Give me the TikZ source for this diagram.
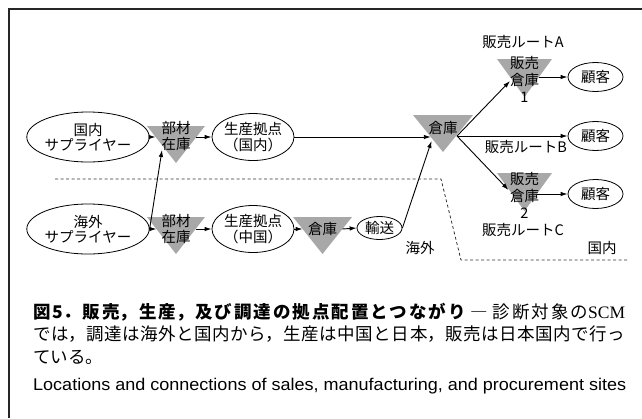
\documentclass[tikz,border=0pt]{standalone}
\usepackage{fontspec}
\usepackage{graphicx}
\setmainfont{Liberation Sans}
\newfontfamily\jp{Noto Sans CJK JP}
\newfontfamily\en{Liberation Sans}
\newfontfamily\enserif{Liberation Serif}
\usetikzlibrary{arrows.meta,shapes.geometric}
\definecolor{trigray}{RGB}{168,168,168}
\newcommand\tri[4]{\fill[trigray] ({#1-#3/2},#2) -- ({#1+#3/2},#2) -- (#1,{#2+#4}) -- cycle;}
\begin{document}
\begin{tikzpicture}[x=1pt,y=-1pt,
  lbl/.style={font=\jp\fontsize{14.5}{15.5}\selectfont, inner sep=0pt, align=center},
  ell/.style={draw, ellipse, line width=0.8pt, lbl},
  arr/.style={-{Latex[length=7pt,width=4.5pt]}, line width=0.9pt},
  zone/.style={dashed, dash pattern=on 3pt off 2.5pt, line width=0.8pt, black!80}]
\useasboundingbox (0,0) rectangle (642,418);
% frame
\draw[line width=1.2pt, black!85] (642,9) -- (9,9) -- (9,418);
% triangles
\tri{176}{126}{58}{37}
\tri{176}{217}{58}{37}
\tri{322.5}{217}{59}{37}
\tri{443}{115}{60}{37}
\tri{524.5}{59}{55}{38}
\tri{524.5}{173}{55}{38}
% nodes
\node[ell, minimum width=93pt, minimum height=50pt] (s1) at (88,137) {国内\\サプライヤー};
\node[ell, minimum width=93pt, minimum height=50pt] (s2) at (88,229) {海外\\サプライヤー};
\node[lbl] (b1) at (176,136) {部材\\在庫};
\node[lbl] (b2) at (176,229) {部材\\在庫};
\node[ell, minimum width=68pt, minimum height=47pt] (p1) at (253,137) {生産拠点\\（国内）};
\node[ell, minimum width=68pt, minimum height=47pt] (p2) at (253,229) {生産拠点\\（中国）};
\node[lbl] (w0) at (322.5,229) {倉庫};
\node[ell, minimum width=45pt, minimum height=23pt] (t) at (379.5,228) {輸送};
\node[lbl] (w1) at (443,128) {倉庫};
\node[lbl, font=\jp\fontsize{14.5}{17}\selectfont] (sw1) at (524.5,79) {販売\\倉庫\\1};
\node[lbl, font=\jp\fontsize{14.5}{17}\selectfont] (sw2) at (524.5,195) {販売\\倉庫\\2};
\node[ell, minimum width=55pt, minimum height=29pt] (c1) at (595.5,77) {顧客};
\node[ell, minimum width=55pt, minimum height=29pt] (c2) at (595.5,136) {顧客};
\node[ell, minimum width=55pt, minimum height=29pt] (c3) at (595.5,194) {顧客};
\node[lbl] (rA) at (523,42) {販売ルートA};
\node[lbl] (rB) at (526,147) {販売ルートB};
\node[lbl] (rC) at (523,230) {販売ルートC};
\node[lbl] (ov) at (420,248) {海外};
\node[lbl] (dm) at (602,248) {国内};
% edge coordinates of triangles
\coordinate (b1w) at (155.6,137);
\coordinate (b1e) at (196.4,137);
\coordinate (b1sw) at (162,150);
\coordinate (b2w) at (156.4,229);
\coordinate (b2e) at (195.6,229);
\coordinate (w0w) at (302.6,229);
\coordinate (w0e) at (342.4,229);
\coordinate (w1w) at (430.8,137);
\coordinate (w1sw) at (431.5,141);
\coordinate (w1e) at (457,136);
\coordinate (sw1w) at (510,81);
\coordinate (sw1e) at (539,77);
\coordinate (sw2w) at (508.5,190);
\coordinate (sw2e) at (537,194);
% connectors
\draw[arr] (s1.east) -- (b1w);
\draw[arr] (b1e) -- (p1.west);
\draw[arr] (p1.east) -- (w1w);
\draw[arr] (s2.east) -- (b2w);
\draw[arr] (s2.east) -- (b1sw);
\draw[arr] (b2e) -- (p2.west);
\draw[arr] (p2.east) -- (w0w);
\draw[arr] (w0e) -- (t.west);
\draw[arr] (t.east) -- (w1sw);
\draw[arr] (w1e) -- (sw1w);
\draw[arr] (w1e) -- (c2.west);
\draw[arr] (w1e) -- (sw2w);
\draw[arr] (sw1e) -- (c1.west);
\draw[arr] (sw2e) -- (c3.west);
% zone boundary
\coordinate (z1) at (55,179);
\coordinate (z2) at (441,179);
\coordinate (z3) at (461,260);
\coordinate (z4) at (629,260);
\draw[zone] (z1) -- (z2) -- (z3) -- (z4);
% caption
\node[anchor=base west, inner sep=0pt] (cap) at (33,318) {\parbox[t]{592pt}{\jp\fontsize{17.5}{22.5}\selectfont
\XeTeXlinebreaklocale "ja"\XeTeXlinebreakskip=0pt plus 4pt\relax
\textbf{図5．販売，生産，及び調達の拠点配置とつながり} ― 診断対象の{\enserif SCM}\linebreak
では，調達は海外と国内から，生産は中国と日本，販売は日本国内で行っ\linebreak
ている。}};
\node[anchor=base west, inner sep=0pt, font=\en\fontsize{17}{20}\selectfont] (en) at (33,390)
  {\scalebox{1.06}[1]{Locations and connections of sales, manufacturing, and procurement sites}};
\end{tikzpicture}
\end{document}
